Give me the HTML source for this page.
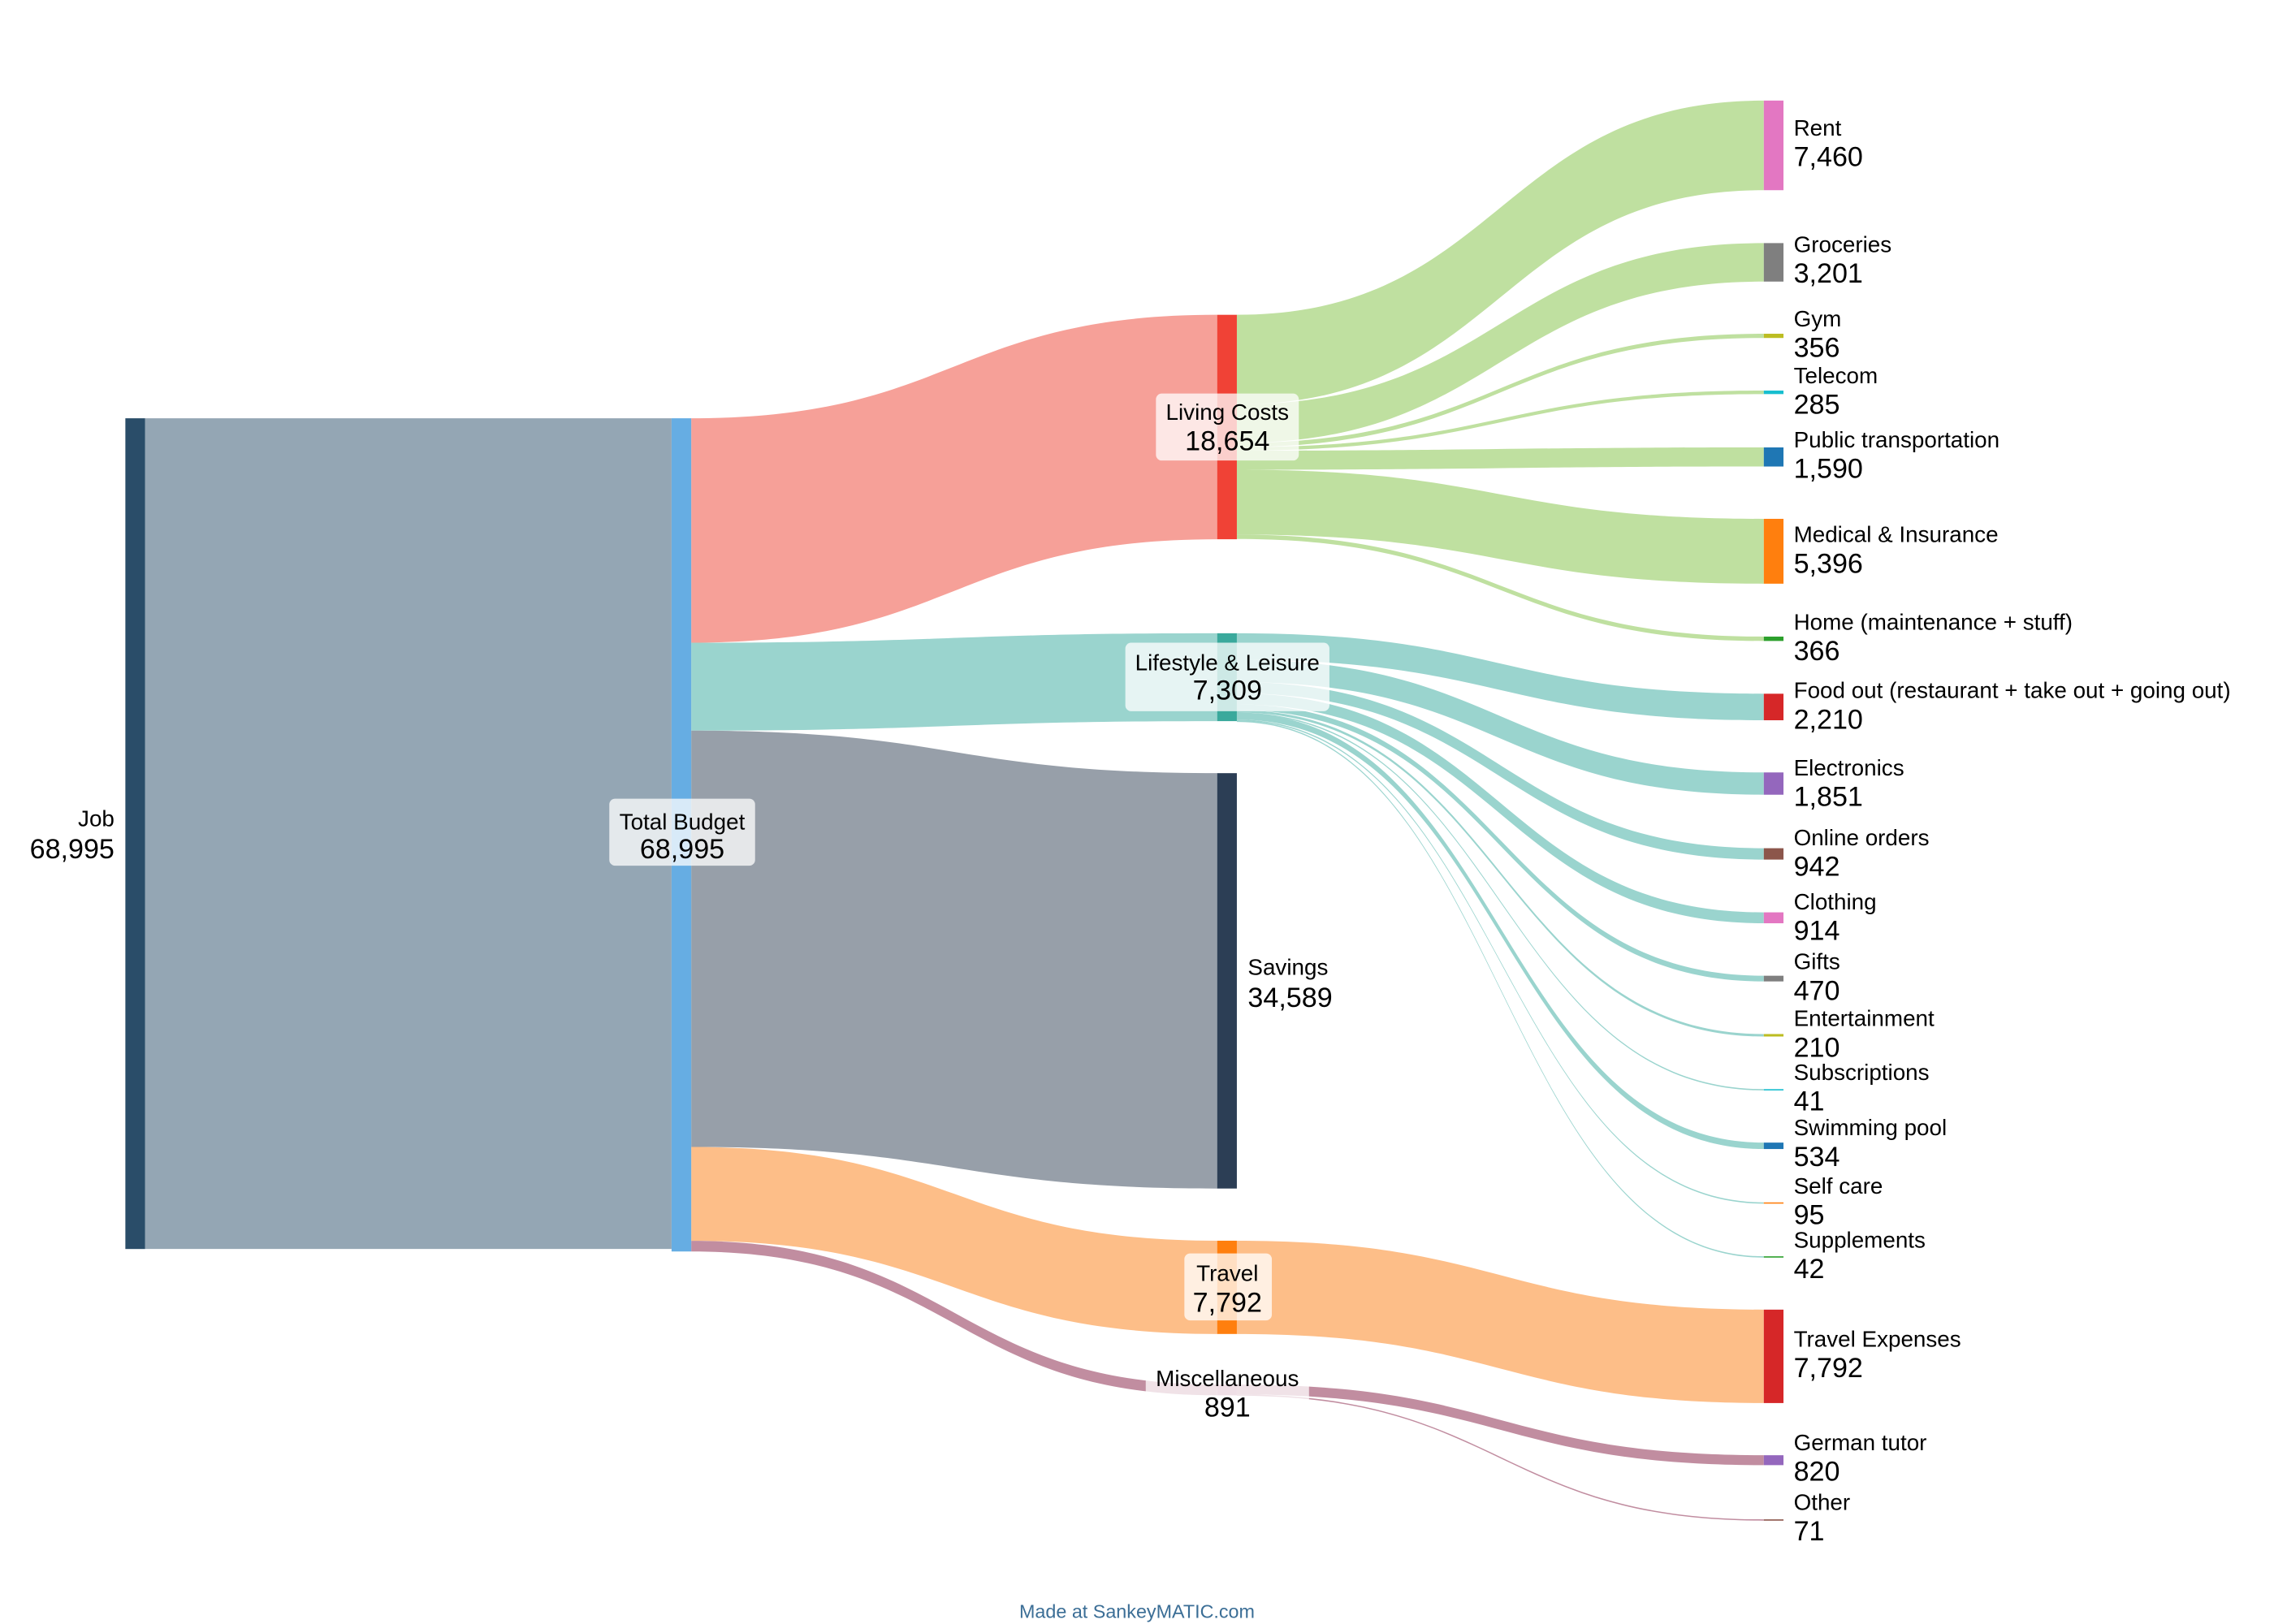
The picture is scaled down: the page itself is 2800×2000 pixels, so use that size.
<!DOCTYPE html>
<html><head><meta charset="utf-8"><style>
html,body{margin:0;padding:0;background:#fff;width:2800px;height:2000px;overflow:hidden}
svg{display:block}
text{font-family:"Liberation Sans",Arial,sans-serif;fill:#000}
.n{font-size:15.5px}.v{font-size:19px}
</style></head><body>
<svg id="s" width="2800" height="2000" viewBox="0 0 1560 1114.3" preserveAspectRatio="none" xmlns="http://www.w3.org/2000/svg">
<g id="flows"></g>
<g id="nodes"></g>
<g id="labels">
<text class="n" x="78.5" y="567" text-anchor="end">Job</text>
<text class="v" x="78.5" y="589" text-anchor="end">68,995</text>
<rect x="418" y="548" width="100" height="46" rx="4" fill="#fff" opacity="0.75"/>
<text class="n" x="468" y="569" text-anchor="middle">Total Budget</text>
<text class="v" x="468" y="589" text-anchor="middle">68,995</text>
<rect x="793" y="270" width="98" height="46" rx="4" fill="#fff" opacity="0.75"/>
<text class="n" x="842" y="288" text-anchor="middle">Living Costs</text>
<text class="v" x="842" y="309" text-anchor="middle">18,654</text>
<rect x="772" y="441" width="140" height="47" rx="4" fill="#fff" opacity="0.75"/>
<text class="n" x="842" y="460" text-anchor="middle">Lifestyle &amp; Leisure</text>
<text class="v" x="842" y="480" text-anchor="middle">7,309</text>
<text class="n" x="856" y="669">Savings</text>
<text class="v" x="856" y="691">34,589</text>
<rect x="812.5" y="860" width="60" height="46" rx="4" fill="#fff" opacity="0.75"/>
<text class="n" x="842" y="879" text-anchor="middle">Travel</text>
<text class="v" x="842" y="900" text-anchor="middle">7,792</text>
<rect x="786" y="932" width="112" height="46" rx="4" fill="#fff" opacity="0.75"/>
<text class="n" x="842" y="951" text-anchor="middle">Miscellaneous</text>
<text class="v" x="842" y="972" text-anchor="middle">891</text>
<g class="r">
<text class="n" x="1230.5" y="93">Rent</text><text class="v" x="1230.5" y="114">7,460</text>
<text class="n" x="1230.5" y="173">Groceries</text><text class="v" x="1230.5" y="194">3,201</text>
<text class="n" x="1230.5" y="224">Gym</text><text class="v" x="1230.5" y="245">356</text>
<text class="n" x="1230.5" y="263">Telecom</text><text class="v" x="1230.5" y="284">285</text>
<text class="n" x="1230.5" y="307">Public transportation</text><text class="v" x="1230.5" y="328">1,590</text>
<text class="n" x="1230.5" y="372">Medical &amp; Insurance</text><text class="v" x="1230.5" y="393">5,396</text>
<text class="n" x="1230.5" y="432">Home (maintenance + stuff)</text><text class="v" x="1230.5" y="453">366</text>
<text class="n" x="1230.5" y="479">Food out (restaurant + take out + going out)</text><text class="v" x="1230.5" y="500">2,210</text>
<text class="n" x="1230.5" y="532">Electronics</text><text class="v" x="1230.5" y="553">1,851</text>
<text class="n" x="1230.5" y="580">Online orders</text><text class="v" x="1230.5" y="601">942</text>
<text class="n" x="1230.5" y="624">Clothing</text><text class="v" x="1230.5" y="645">914</text>
<text class="n" x="1230.5" y="665">Gifts</text><text class="v" x="1230.5" y="686">470</text>
<text class="n" x="1230.5" y="704">Entertainment</text><text class="v" x="1230.5" y="725">210</text>
<text class="n" x="1230.5" y="741">Subscriptions</text><text class="v" x="1230.5" y="762">41</text>
<text class="n" x="1230.5" y="779">Swimming pool</text><text class="v" x="1230.5" y="800">534</text>
<text class="n" x="1230.5" y="819">Self care</text><text class="v" x="1230.5" y="840">95</text>
<text class="n" x="1230.5" y="856">Supplements</text><text class="v" x="1230.5" y="877">42</text>
<text class="n" x="1230.5" y="924">Travel Expenses</text><text class="v" x="1230.5" y="945">7,792</text>
<text class="n" x="1230.5" y="995">German tutor</text><text class="v" x="1230.5" y="1016">820</text>
<text class="n" x="1230.5" y="1036">Other</text><text class="v" x="1230.5" y="1057">71</text>
</g>
<text x="780" y="1110" text-anchor="middle" style="font-size:13px;fill:#3b6e96">Made at SankeyMATIC.com</text>
</g>
</svg>
<script>
var W=13.5,X=[86,460.7,835,1210];
var F=document.getElementById('flows'),N=document.getElementById('nodes');
var NS='http://www.w3.org/2000/svg';
function flow(c,a0,a1,b0,b1,col){
 if(a1-a0<0.9){a1=a0+0.9;b1=b0+0.9;}
 var x0=X[c]+W,x1=X[c+1],m=(x0+x1)/2;
 var p=document.createElementNS(NS,'path');
 p.setAttribute('d','M'+x0+','+a0+'C'+m+','+a0+' '+m+','+b0+' '+x1+','+b0+'L'+x1+','+b1+'C'+m+','+b1+' '+m+','+a1+' '+x0+','+a1+'Z');
 p.setAttribute('fill',col);F.appendChild(p);
}
function node(c,y0,y1,col){
 var r=document.createElementNS(NS,'rect');
 r.setAttribute('x',X[c]);r.setAttribute('y',y0);r.setAttribute('width',W);r.setAttribute('height',Math.max(y1-y0,0.9));
 r.setAttribute('fill',col);N.appendChild(r);
}
flow(0,287,857,287,857,'#94a6b4');
flow(1,287,441,216,370,'#f6a098');
flow(1,441,501.3,434.5,494.8,'#9ad4ce');
flow(1,501.3,787,530.5,815.5,'#979fa9');
flow(1,787,851.4,851.3,915.3,'#fdbe88');
flow(1,851.4,858.7,950,957.4,'#c18da0');
var lv=[[61.5,69],[26.4,166.8],[2.9,229],[2.4,268],[13.1,307],[44.5,356],[3,436.8]];
var y=216;lv.forEach(function(d){flow(2,y,y+d[0],d[1],d[1]+d[0],'#bfe0a0');y+=d[0];});
var ls=[[18.2,476],[15.3,530],[7.8,582],[7.5,626],[3.9,669.5],[1.7,709.5],[0.4,747.3],[4.4,784],[0.8,825],[0.4,862]];
y=434.5;ls.forEach(function(d){flow(2,y,y+d[0],d[1],d[1]+d[0],'#9ad4ce');y+=d[0];});
flow(2,851.3,915.3,898.6,962.7,'#fdbe88');
flow(2,950,956.8,998.5,1005.3,'#c18da0');
flow(2,956.8,957.4,1042.5,1043.1,'#c18da0');
node(0,287,857,'#2a4d69');node(1,287,858.7,'#66ade3');
node(2,216,370,'#f04236');node(2,434.5,494.8,'#3aa99c');node(2,530.5,815.5,'#2c3e55');
node(2,851.3,915.3,'#ff7f0e');node(2,950,957.4,'#c0809a');
var rc=['#e377c2','#7f7f7f','#bcbd22','#17becf','#1f77b4','#ff7f0e','#2ca02c'];
lv.forEach(function(d,i){node(3,d[1],d[1]+d[0],rc[i]);});
var rc2=['#d62728','#9467bd','#8c564b','#e377c2','#7f7f7f','#bcbd22','#17becf','#1f77b4','#ff7f0e','#2ca02c'];
ls.forEach(function(d,i){node(3,d[1],d[1]+d[0],rc2[i]);});
node(3,898.6,962.7,'#d62728');node(3,998.5,1005.3,'#9467bd');node(3,1042.5,1043.1,'#8c564b');
</script>
</body></html>
